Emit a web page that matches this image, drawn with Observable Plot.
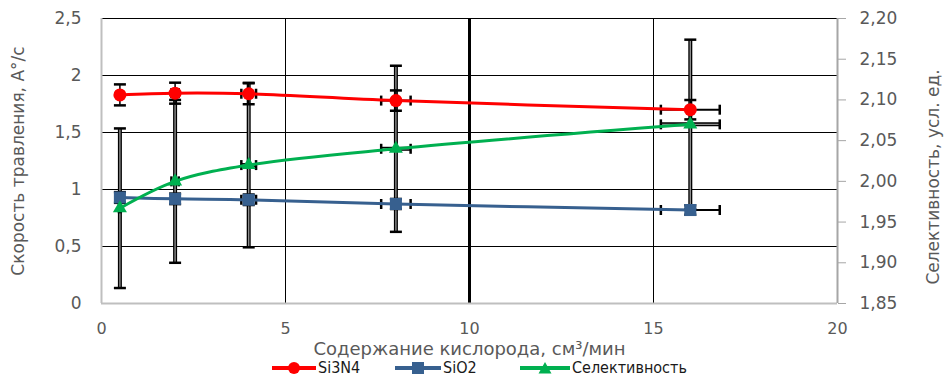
<!DOCTYPE html>
<html>
<head>
<meta charset="utf-8">
<script src="https://cdn.jsdelivr.net/npm/d3@7"></script>
<script src="https://cdn.jsdelivr.net/npm/@observablehq/plot@0.6"></script>
<style>
  html, body { margin: 0; padding: 0; background: #fff; }
  #chart { width: 946px; height: 378px; position: relative; overflow: hidden; }
  #chart > svg { position: absolute; left: 0; top: 0; }
  .legend { position: absolute; left: 0; top: 360px; width: 946px; height: 16px; font-family: "DejaVu Sans Condensed", "DejaVu Sans", sans-serif; font-size: 16px; line-height: 16px; color: #1a1a1a; }
  .legend .item { position: absolute; top: 0; height: 16px; display: flex; align-items: center; }
  .legend svg { margin-right: 2px; display: block; }
  .legend span { display: block; line-height: 16px; }
</style>
</head>
<body>
<div id="chart"></div>
<script>
// ---- data ----
const oxygen = [0.5, 2, 4, 8, 16];
const oxygenErr = [0.025, 0.1, 0.2, 0.4, 0.8];
const si3n4 = [1.83, 1.845, 1.84, 1.78, 1.70];
const si3n4Err = [0.092, 0.092, 0.092, 0.089, 0.085];
const sio2 = [0.93, 0.918, 0.91, 0.873, 0.82];
const sio2Err = [0.047, 0.046, 0.046, 0.044, 0.041];
const selectivity = [1.967, 2.0, 2.02, 2.04, 2.07];
const selectivityErr = [0.098, 0.1, 0.101, 0.102, 0.104];

const xTicks = [0, 5, 10, 15, 20];
const xGrid = [5, 10, 15];
const xGridThick = [10];
const yLeftTicks = [0, 0.5, 1, 1.5, 2, 2.5];
const yRightTicks = [1.85, 1.90, 1.95, 2.00, 2.05, 2.10, 2.15, 2.20];

const seriesNames = ["Si3N4", "SiO2", "Селективность"];
const seriesColors = ["#ff0000", "#37608f", "#00b050"];
const xTitle = "Содержание кислорода, см³/мин";
const yLeftTitle = "Скорость травления, A°/c";
const yRightTitle = "Селективность, усл. ед.";

// ---- secondary axis mapping (selectivity -> left units) ----
const yLeftDomain = [0, 2.5];
const yRightDomain = [1.85, 2.20];
const toLeft = d3.scaleLinear().domain(yRightDomain).range(yLeftDomain);

const comma = s => String(s).replace(".", ",");

// ---- tidy rows ----
const rows = [];
oxygen.forEach((x, i) => {
  rows.push({series: seriesNames[0], x, xe: oxygenErr[i], y: si3n4[i], y1: si3n4[i] - si3n4Err[i], y2: si3n4[i] + si3n4Err[i]});
  rows.push({series: seriesNames[1], x, xe: oxygenErr[i], y: sio2[i], y1: sio2[i] - sio2Err[i], y2: sio2[i] + sio2Err[i]});
  rows.push({series: seriesNames[2], x, xe: oxygenErr[i],
    y: toLeft(selectivity[i]), y1: toLeft(selectivity[i] - selectivityErr[i]), y2: toLeft(selectivity[i] + selectivityErr[i])});
});
const R = rows.filter(d => d.series === seriesNames[0]);
const B = rows.filter(d => d.series === seriesNames[1]);
const G = rows.filter(d => d.series === seriesNames[2]);
const RB = R.concat(B);

// cap symbols
const hCap = {draw(ctx, size) { const r = Math.sqrt(size / Math.PI); ctx.moveTo(-r, 0); ctx.lineTo(r, 0); }};
const vCap = {draw(ctx, size) { const r = Math.sqrt(size / Math.PI); ctx.moveTo(0, -r); ctx.lineTo(0, r); }};

const font = "DejaVu Sans, sans-serif";
const gray = "#595959";

const capsV = (data, stroke, w) => [
  Plot.dot(data, {x: "x", y: "y1", symbol: hCap, r: 6, stroke, strokeWidth: w}),
  Plot.dot(data, {x: "x", y: "y2", symbol: hCap, r: 6, stroke, strokeWidth: w})
];
const capsH = (data, stroke, w) => [
  Plot.dot(data, {x: d => d.x - d.xe, y: "y", symbol: vCap, r: 5, stroke, strokeWidth: w}),
  Plot.dot(data, {x: d => d.x + d.xe, y: "y", symbol: vCap, r: 5, stroke, strokeWidth: w})
];

const plot = Plot.plot({
  width: 946,
  height: 378,
  marginLeft: 101,
  marginRight: 109,
  marginTop: 18,
  marginBottom: 75,
  style: {fontFamily: font, fontSize: "17px", color: gray, background: "white"},
  x: {domain: [0, 20], ticks: xTicks},
  y: {domain: yLeftDomain, ticks: yLeftTicks},
  marks: [
    // grid
    Plot.ruleY(yLeftTicks.filter(d => d > 0), {stroke: "#000", strokeWidth: 1}),
    Plot.ruleX(xGrid, {stroke: "#000", strokeWidth: 1}),
    Plot.ruleX(xGridThick, {stroke: "#000", strokeWidth: 3}),
    // axis frame lines
    Plot.ruleY([0], {stroke: "#bfbfbf", strokeWidth: 2}),
    Plot.ruleX([0], {stroke: "#bfbfbf", strokeWidth: 2}),
    Plot.ruleX([20], {stroke: "#a6a6a6", strokeWidth: 2}),
    // axes
    Plot.axisX({ticks: xTicks, tickSize: 0, tickPadding: 19, label: null, fill: gray, fontSize: 16}),
    Plot.axisY({ticks: yLeftTicks, tickSize: 0, tickPadding: 20, label: null, tickFormat: comma, fill: gray, fontSize: 17}),
    Plot.axisY({anchor: "right", ticks: yRightTicks.map(toLeft), tickSize: 8, tickPadding: 14, label: null,
      stroke: "#a6a6a6", tickFormat: d => comma(d3.format(".2f")(toLeft.invert(d))), fill: gray, fontSize: 17}),
    // titles
    Plot.text([xTitle], {frameAnchor: "bottom", dy: 46, textAnchor: "middle", lineAnchor: "middle", fill: gray, fontSize: 18}),
    Plot.text([yLeftTitle], {frameAnchor: "left", dx: -83, rotate: -90, textAnchor: "middle", lineAnchor: "middle", fill: gray, fontSize: 17}),
    Plot.text([yRightTitle], {frameAnchor: "right", dx: 96, dy: 16, rotate: -90, textAnchor: "middle", lineAnchor: "middle", fill: gray, fontSize: 17}),
    // error bars: selectivity (gray with black edge)
    Plot.ruleX(G, {x: "x", y1: "y1", y2: "y2", stroke: "#000", strokeWidth: 4}),
    Plot.ruleX(G, {x: "x", y1: "y1", y2: "y2", stroke: "#8c8c8c", strokeWidth: 1.4}),
    Plot.ruleY(G, {y: "y", x1: d => d.x - d.xe, x2: d => d.x + d.xe, stroke: "#000", strokeWidth: 4}),
    Plot.ruleY(G, {y: "y", x1: d => d.x - d.xe, x2: d => d.x + d.xe, stroke: "#8c8c8c", strokeWidth: 1.4}),
    ...capsV(G, "#000", 2.5),
    ...capsH(G, "#000", 2.5),
    // error bars: Si3N4, SiO2
    Plot.ruleX(RB, {x: "x", y1: "y1", y2: "y2", stroke: "#000", strokeWidth: 1.5}),
    Plot.ruleY(RB, {y: "y", x1: d => d.x - d.xe, x2: d => d.x + d.xe, stroke: "#000", strokeWidth: 2}),
    ...capsV(RB, "#000", 2.5),
    ...capsH(RB, "#000", 2.5),
    // lines
    Plot.line(R, {x: "x", y: "y", stroke: seriesColors[0], strokeWidth: 3, curve: "catmull-rom"}),
    Plot.line(B, {x: "x", y: "y", stroke: seriesColors[1], strokeWidth: 3, curve: "catmull-rom"}),
    Plot.line(G, {x: "x", y: "y", stroke: seriesColors[2], strokeWidth: 3, curve: "catmull-rom"}),
    // markers
    Plot.dot(R, {x: "x", y: "y", symbol: "circle", r: 6.5, fill: seriesColors[0]}),
    Plot.dot(B, {x: "x", y: "y", symbol: "square", r: 6.8, fill: seriesColors[1]}),
    Plot.dot(G, {x: "x", y: "y", symbol: "triangle", r: 5.2, fill: seriesColors[2]})
  ]
});

const chart = document.getElementById("chart");
chart.appendChild(plot);

// legend
const legend = document.createElement("div");
legend.className = "legend";
const itemLeft = [272, 395, 520];
const swW = [44, 46, 50];
const markerSvg = (i, w, c) => i === 0
  ? `<circle cx="${w/2}" cy="7" r="6" fill="${c}"/>`
  : i === 1
  ? `<rect x="${w/2-6}" y="1" width="12" height="12" fill="${c}"/>`
  : `<path d="M${w/2},1 L${w/2+6.5},12.5 L${w/2-6.5},12.5 Z" fill="${c}"/>`;
seriesNames.forEach((name, i) => {
  const item = document.createElement("div");
  item.className = "item";
  item.style.left = itemLeft[i] + "px";
  const w = swW[i];
  item.innerHTML = `<svg width="${w}" height="14"><line x1="0" x2="${w}" y1="7" y2="7" stroke="${seriesColors[i]}" stroke-width="4"/>${markerSvg(i, w, seriesColors[i])}</svg><span>${name}</span>`;
  legend.appendChild(item);
});
chart.appendChild(legend);
</script>
</body>
</html>
